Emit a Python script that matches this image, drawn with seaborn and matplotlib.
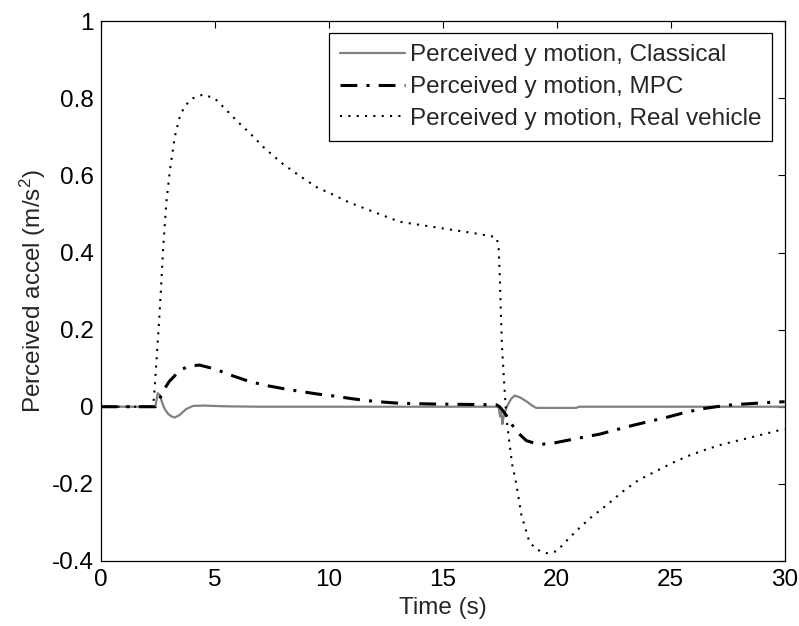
import seaborn as sns
from matplotlib import pyplot as plt
import numpy as np
import pandas as pd

# values
t_classical = [0, 2.4, 2.5, 2.6, 2.7, 2.8, 2.95, 3.1, 3.25, 3.45, 3.75, 4.05, 4.5, 5.5, 7, 10,
               17.45, 17.52, 17.57, 17.62, 17.66, 17.75, 17.86, 18.0, 18.16, 18.4, 18.67,
               18.9, 19.1, 20.85, 21, 30]
y_classical = [0, 0, 0.035, 0.03, 0.01, -0.005, -0.018, -0.025, -0.028, -0.022, -0.006, 0.002,
               0.003, 0.001, 0, 0, 0, -0.025, -0.015, -0.045, -0.03, -0.01, 0.005, 0.02, 0.029,
               0.024, 0.014, 0.004, -0.003, -0.003, 0, 0]

t_mpc = [0, 2.4, 2.55, 2.73, 3.0, 3.32, 3.6, 3.9, 4.34, 5.0, 5.8, 6.5, 7.27, 8.0, 8.73, 9.5,
         10.2, 11.0, 11.65, 12.4, 13.1, 14.6, 16.0, 17.35, 17.5, 17.7, 17.86, 18.07, 18.35,
         18.67, 19.0, 19.4, 19.9, 20.4, 21.1, 21.9, 22.6, 23.3, 24.0, 24.8, 25.5, 26.3, 27.0,
         27.7, 28.5, 29.3, 30]
y_mpc = [0, 0, 0.015, 0.04, 0.065, 0.085, 0.098, 0.106, 0.108, 0.098, 0.08, 0.066, 0.055,
         0.047, 0.040, 0.033, 0.028, 0.021, 0.016, 0.012, 0.009, 0.007, 0.006, 0.005, 0.0,
         -0.015, -0.028, -0.049, -0.07, -0.088, -0.094, -0.097, -0.094, -0.088, -0.080,
         -0.071, -0.060, -0.049, -0.039, -0.028, -0.017, -0.006, 0.0, 0.005, 0.008, 0.011,
         0.013]

t_real = [0, 2.3, 2.37, 2.45, 2.56, 2.65, 2.73, 2.88, 3.03, 3.25, 3.46, 3.68, 4.04, 4.49,
          5.0, 5.51, 6.0, 6.54, 7.2, 7.99, 8.7, 9.46, 10.2, 10.9, 12.0, 13.1, 14.2, 15.3,
          16.4, 17.35, 17.45, 17.5, 17.55, 17.6, 17.7, 17.8, 17.9, 18.05, 18.23, 18.45,
          18.8, 19.1, 19.55, 20.0, 20.4, 20.9, 21.45, 22.2, 22.9, 23.6, 24.4, 25.1, 25.8,
          26.5, 27.3, 28.5, 29.7, 30]
y_real = [0, 0, 0.05, 0.12, 0.22, 0.31, 0.40, 0.53, 0.61, 0.70, 0.75, 0.78, 0.80, 0.81,
          0.80, 0.77, 0.74, 0.71, 0.67, 0.63, 0.60, 0.57, 0.55, 0.53, 0.505, 0.48, 0.47,
          0.46, 0.45, 0.44, 0.42, 0.35, 0.25, 0.16, 0.06, -0.03, -0.08, -0.15, -0.20, -0.28,
          -0.35, -0.37, -0.38, -0.375, -0.35, -0.32, -0.29, -0.255, -0.22, -0.19, -0.166,
          -0.145, -0.127, -0.112, -0.097, -0.08, -0.062, -0.058]

labels = ['Perceived y motion, Classical', 'Perceived y motion, MPC',
          'Perceived y motion, Real vehicle']
yticks = [-0.4, -0.2, 0, 0.2, 0.4, 0.6, 0.8, 1]
ytick_labels = ['-0.4', '-0.2', '0', '0.2', '0.4', '0.6', '0.8', '1']
xticks = [0, 5, 10, 15, 20, 25, 30]

sns.set_style('white')
plt.rcParams['font.family'] = ['Liberation Sans', 'DejaVu Sans']
plt.rcParams['mathtext.fontset'] = 'custom'
plt.rcParams['mathtext.rm'] = 'Liberation Sans'
plt.rcParams['mathtext.default'] = 'regular'
plt.rcParams['axes.unicode_minus'] = False

fs = 17.5
fig = plt.figure(figsize=(7.99, 6.26), dpi=100)
ax = fig.add_axes([0.126, 0.104, 0.856, 0.862])

sns.lineplot(x=t_classical, y=y_classical, color='#808080', linewidth=1.6,
             label=labels[0], ax=ax)
sns.lineplot(x=t_mpc, y=y_mpc, color='black', linewidth=2.2,
             linestyle=(0, (5.5, 3, 1, 3)), label=labels[1], ax=ax)
sns.lineplot(x=t_real, y=y_real, color='black', linewidth=1.5,
             linestyle=(0, (1, 3)), label=labels[2], ax=ax)

ax.set_xlim(0, 30)
ax.set_ylim(-0.4, 1)
ax.set_xticks(xticks)
ax.set_yticks(yticks)
ax.set_yticklabels(ytick_labels)
ax.tick_params(direction='in', top=True, right=True, length=5, width=0.8,
               labelsize=fs, pad=5, colors='black')
ax.tick_params(axis='x', pad=6)
for s in ax.spines.values():
    s.set_color('black')
    s.set_linewidth(0.9)

ax.set_xlabel('Time (s)', fontsize=fs, labelpad=4)
ax.set_ylabel('Perceived accel (m/s$^2$)', fontsize=fs, labelpad=3)

leg = ax.legend(loc='upper right', fontsize=fs, fancybox=False, framealpha=1,
                edgecolor='black', borderaxespad=0.5, handlelength=2.7,
                handletextpad=0.2, labelspacing=0.4, borderpad=0.45)
leg.get_frame().set_linewidth(0.9)

plt.savefig('out.png', dpi=100)
plt.close()
